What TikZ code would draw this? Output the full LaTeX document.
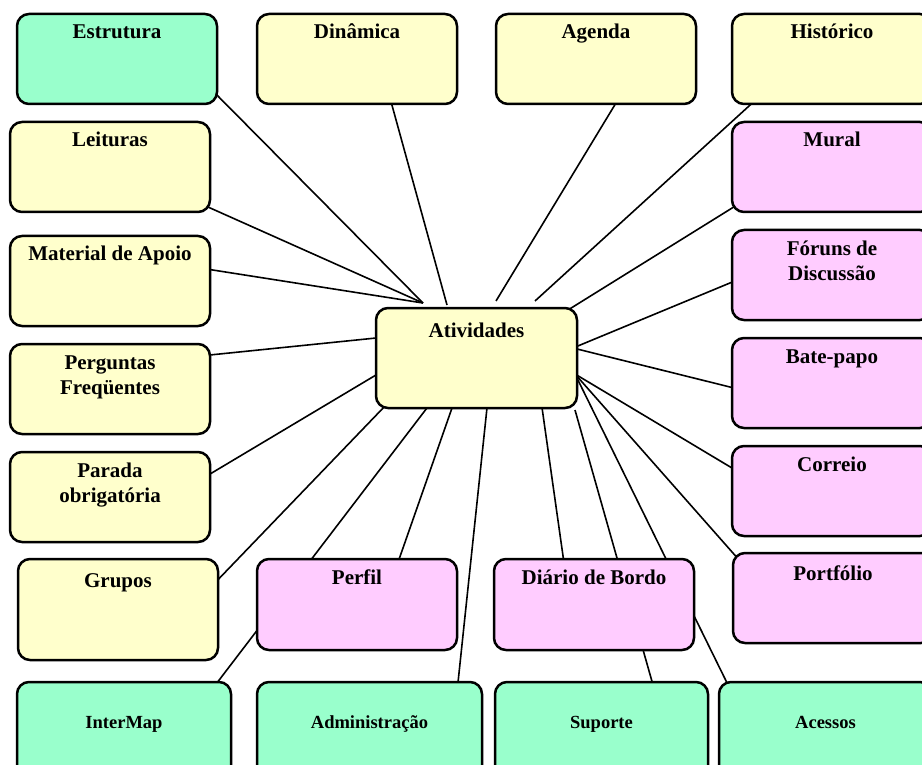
\documentclass[tikz,border=0pt]{standalone}
\usepackage{fontspec}
\setmainfont{Liberation Serif}
\definecolor{cgreen}{HTML}{99FFCC}
\definecolor{cyellow}{HTML}{FFFFCC}
\definecolor{cpink}{HTML}{FFCCFF}
\pgfdeclarelayer{background}
\pgfsetlayers{background,main}
\newcommand\bxfont{\fontsize{21}{25}\selectfont\bfseries}
\newcommand\sbxfont{\fontsize{18.5}{22}\selectfont\bfseries}
% #1 font, #2 name, #3 x1, #4 y1, #5 x2, #6 y2, #7 fill, #8 baseline offset, #9 text
\newcommand\mkbox[9][\bxfont]{%
  \node[boxstyle, fill=#7, minimum width={#5-#3}, minimum height={#6-#4}] (#2) at ({(#3+#5)/2},{(#4+#6)/2}) {};
  \node[lblstyle, font=#1] (#2-t) at ([yshift=-#8pt]#2.north) {\begin{tabular}[t]{@{}c@{}}#9\end{tabular}};
}
\tikzset{
  boxstyle/.style={draw=black, line width=2.5pt, rounded corners=12pt, inner sep=0pt, outer sep=0pt, rectangle},
  lblstyle/.style={anchor=base, inner sep=0pt, outer sep=0pt, text=black},
  conn/.style={draw=black, line width=1.6pt},
}
\begin{document}
\begin{tikzpicture}[x=1pt, y=-1pt]
\useasboundingbox (0,0) rectangle (922,765);
% top row
\mkbox{estr}{17}{14}{217}{104}{cgreen}{25}{Estrutura}
\mkbox{din}{257}{14}{457}{104}{cyellow}{25}{Dinâmica}
\mkbox{agenda}{496}{14}{696}{104}{cyellow}{25}{Agenda}
\mkbox{hist}{732}{14}{932}{104}{cyellow}{25}{Histórico}
% left column
\mkbox{leit}{10}{122}{210}{212}{cyellow}{25}{Leituras}
\mkbox{mat}{10}{236}{210}{326}{cyellow}{25}{Material de Apoio}
\mkbox{perg}{10}{344}{210}{434}{cyellow}{25}{Perguntas\\Freqüentes}
\mkbox{parada}{10}{452}{210}{542}{cyellow}{25}{Parada\\obrigatória}
\mkbox{grupos}{18}{559}{218}{660}{cyellow}{28}{Grupos}
% right column
\mkbox{mural}{732}{122}{932}{212}{cpink}{25}{Mural}
\mkbox{foruns}{732}{230}{932}{320}{cpink}{25}{Fóruns de\\Discussão}
\mkbox{bate}{732}{338}{932}{428}{cpink}{25}{Bate-papo}
\mkbox{correio}{732}{446}{932}{536}{cpink}{25}{Correio}
\mkbox{portf}{733}{553}{933}{643}{cpink}{27}{Portfólio}
% middle
\mkbox{ativ}{376}{308}{577}{408}{cyellow}{29}{Atividades}
\mkbox{perfil}{257}{559}{457}{650}{cpink}{25}{Perfil}
\mkbox{diario}{494}{559}{694}{650}{cpink}{25}{Diário de Bordo}
% bottom row
\mkbox[\sbxfont]{intermap}{17}{682}{231}{790}{cgreen}{46}{InterMap}
\mkbox[\sbxfont]{admin}{257}{682}{482}{790}{cgreen}{46}{Administração}
\mkbox[\sbxfont]{suporte}{495}{682}{708}{790}{cgreen}{46}{Suporte}
\mkbox[\sbxfont]{acessos}{719}{682}{932}{790}{cgreen}{46}{Acessos}
% connector start points (on or near Atividades)
\coordinate (hubL) at (423,303);
\coordinate (sDin) at (447,305);
\coordinate (sAg) at (496,301);
\coordinate (sHist) at (535,301);
\coordinate (sMural) at (568,310);
\coordinate (sRight) at (573,348);
\coordinate (sFan) at (575,374);
\coordinate (sSup) at (575,410);
\coordinate (sDia) at (541.5,404);
\coordinate (sAdm) at (487.4,404);
\coordinate (sPerf) at (453.4,404);
\coordinate (sInt) at (430,404);
\coordinate (sGru) at (386,405);
\coordinate (sPar) at (380,372.6);
\coordinate (sPerg) at (380,337.6);
% connector end points (hidden inside the target boxes)
\coordinate (tEstr) at (205,83);
\coordinate (tLeit) at (199,203);
\coordinate (tMat) at (200,268);
\coordinate (tDin) at (390,98);
\coordinate (tAg) at (619,98);
\coordinate (tHist) at (760,96);
\coordinate (tMural) at (745,200);
\coordinate (tForuns) at (742,278);
\coordinate (tBate) at (742,390);
\coordinate (tCorreio) at (742,474);
\coordinate (tPortf) at (740,561);
\coordinate (tAcessos) at (732,693);
\coordinate (tSup) at (655,692);
\coordinate (tDia) at (565,570);
\coordinate (tAdm) at (457,692);
\coordinate (tPerf) at (396,568);
\coordinate (tInt) at (210,692);
\coordinate (tGru) at (210,588);
\coordinate (tPar) at (200,480);
\coordinate (tPerg) at (200,356);
\begin{pgfonlayer}{background}
\fill[white] (0,0) rectangle (922,765);
\draw[conn] (hubL) -- (tEstr);
\draw[conn] (hubL) -- (tLeit);
\draw[conn] (hubL) -- (tMat);
\draw[conn] (sDin) -- (tDin);
\draw[conn] (sAg) -- (tAg);
\draw[conn] (sHist) -- (tHist);
\draw[conn] (sMural) -- (tMural);
\draw[conn] (sRight) -- (tForuns);
\draw[conn] (sRight) -- (tBate);
\draw[conn] (sFan) -- (tCorreio);
\draw[conn] (sFan) -- (tPortf);
\draw[conn] (sFan) -- (tAcessos);
\draw[conn] (sSup) -- (tSup);
\draw[conn] (sDia) -- (tDia);
\draw[conn] (sAdm) -- (tAdm);
\draw[conn] (sPerf) -- (tPerf);
\draw[conn] (sInt) -- (tInt);
\draw[conn] (sGru) -- (tGru);
\draw[conn] (sPar) -- (tPar);
\draw[conn] (sPerg) -- (tPerg);
\end{pgfonlayer}
\end{tikzpicture}
\end{document}
